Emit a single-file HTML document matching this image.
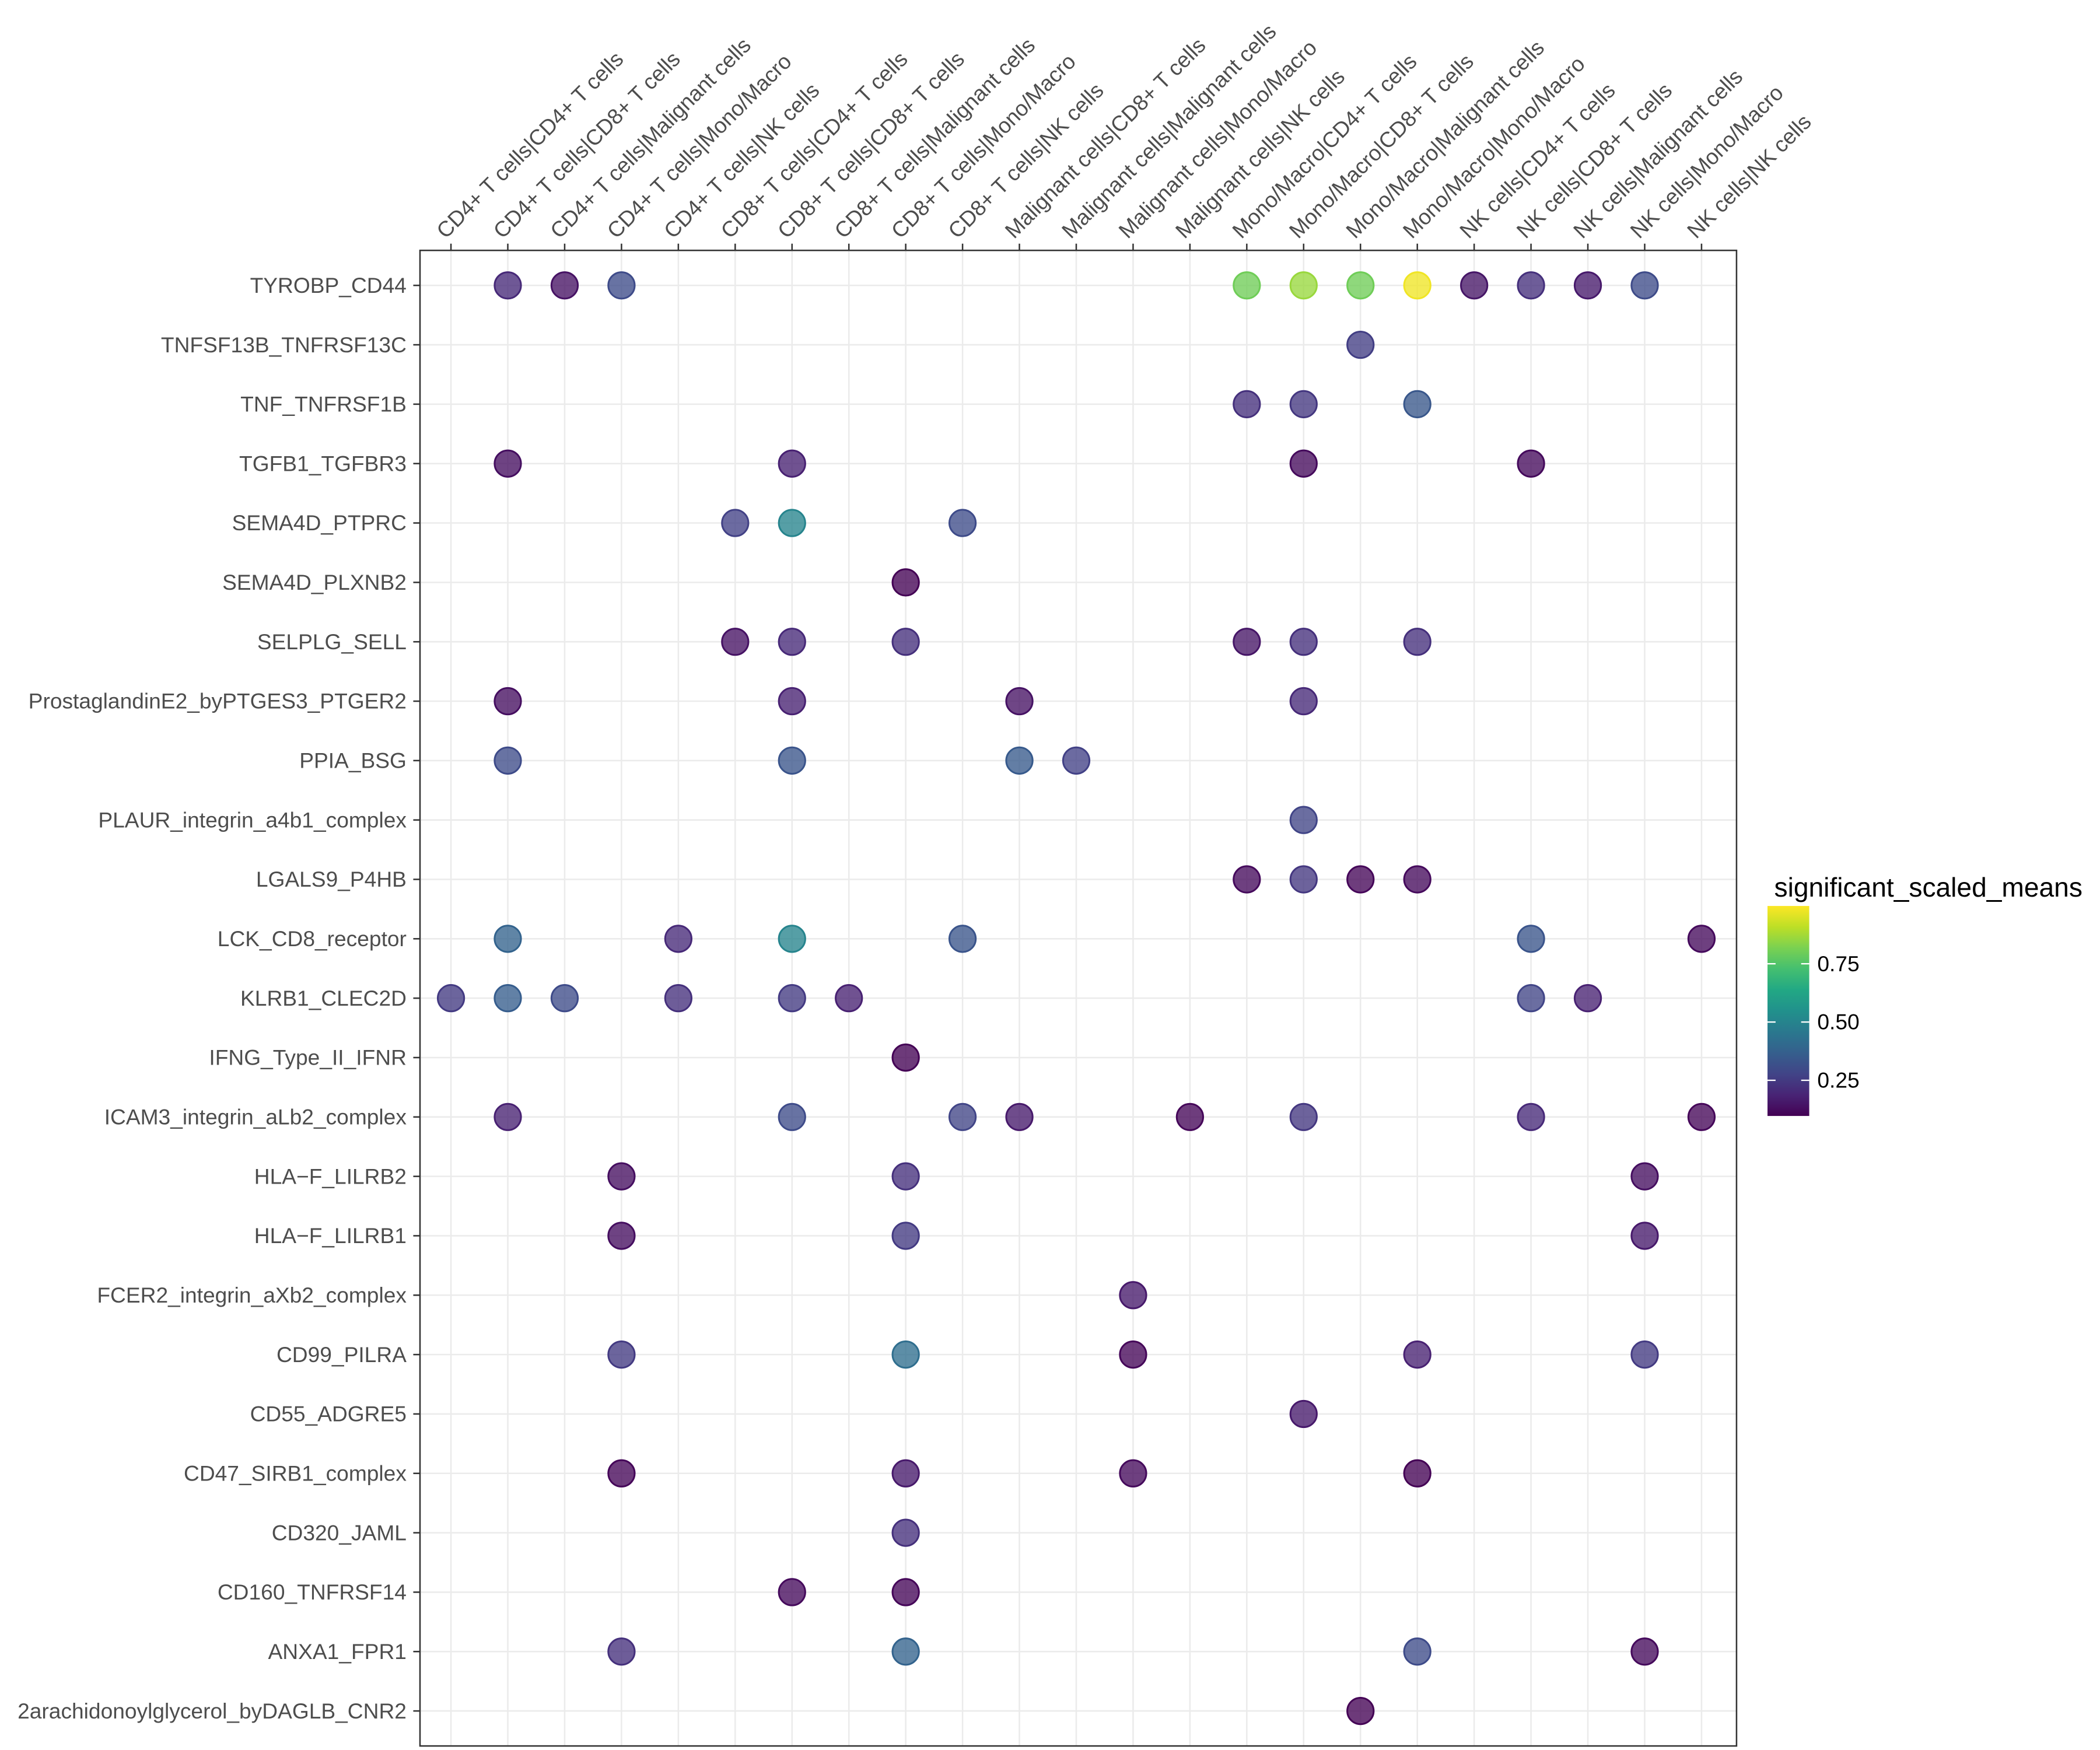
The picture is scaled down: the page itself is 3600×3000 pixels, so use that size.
<!DOCTYPE html>
<html><head><meta charset="utf-8"><style>html,body{margin:0;padding:0;background:#fff}svg{display:block}text{font-family:"Liberation Sans",sans-serif}</style></head>
<body>
<svg id="chart" width="3600" height="3000" viewBox="0 0 1560 1300" xmlns="http://www.w3.org/2000/svg">
<defs>
<linearGradient id="vir" x1="0" y1="1" x2="0" y2="0">
<stop offset="0" stop-color="#440154"/><stop offset="0.1" stop-color="#482475"/><stop offset="0.2" stop-color="#414487"/><stop offset="0.3" stop-color="#355f8d"/><stop offset="0.4" stop-color="#2a788e"/><stop offset="0.5" stop-color="#21918c"/><stop offset="0.6" stop-color="#22a884"/><stop offset="0.7" stop-color="#44bf70"/><stop offset="0.8" stop-color="#7ad151"/><stop offset="0.9" stop-color="#bddf26"/><stop offset="1" stop-color="#fde725"/>
</linearGradient>
</defs>
<g id="grid"></g>
<g id="dots"></g>
<rect x="312" y="186" width="978" height="1111" fill="none" stroke="#333" stroke-width="1.1"/>
<g id="xlabels"></g>
<g id="ylabels"></g>
<g>
<text x="1318" y="666" font-size="20" fill="#000">significant_scaled_means</text>
<rect x="1313" y="673" width="31" height="156" fill="url(#vir)"/>
<g id="cbticks"></g>
</g>
</svg>
<script>
const columns = ["CD4+ T cells|CD4+ T cells","CD4+ T cells|CD8+ T cells","CD4+ T cells|Malignant cells","CD4+ T cells|Mono/Macro","CD4+ T cells|NK cells","CD8+ T cells|CD4+ T cells","CD8+ T cells|CD8+ T cells","CD8+ T cells|Malignant cells","CD8+ T cells|Mono/Macro","CD8+ T cells|NK cells","Malignant cells|CD8+ T cells","Malignant cells|Malignant cells","Malignant cells|Mono/Macro","Malignant cells|NK cells","Mono/Macro|CD4+ T cells","Mono/Macro|CD8+ T cells","Mono/Macro|Malignant cells","Mono/Macro|Mono/Macro","NK cells|CD4+ T cells","NK cells|CD8+ T cells","NK cells|Malignant cells","NK cells|Mono/Macro","NK cells|NK cells"];
const rows = ["TYROBP_CD44","TNFSF13B_TNFRSF13C","TNF_TNFRSF1B","TGFB1_TGFBR3","SEMA4D_PTPRC","SEMA4D_PLXNB2","SELPLG_SELL","ProstaglandinE2_byPTGES3_PTGER2","PPIA_BSG","PLAUR_integrin_a4b1_complex","LGALS9_P4HB","LCK_CD8_receptor","KLRB1_CLEC2D","IFNG_Type_II_IFNR","ICAM3_integrin_aLb2_complex","HLA\u2212F_LILRB2","HLA\u2212F_LILRB1","FCER2_integrin_aXb2_complex","CD99_PILRA","CD55_ADGRE5","CD47_SIRB1_complex","CD320_JAML","CD160_TNFRSF14","ANXA1_FPR1","2arachidonoylglycerol_byDAGLB_CNR2"];
const pointRow = [0,0,0,0,0,0,0,0,0,0,0, 1, 2,2,2, 3,3,3,3, 4,4,4, 5, 6,6,6,6,6,6, 7,7,7,7, 8,8,8,8, 9, 10,10,10,10, 11,11,11,11,11,11, 12,12,12,12,12,12,12,12, 13, 14,14,14,14,14,14,14,14, 15,15,15, 16,16,16, 17, 18,18,18,18,18, 19, 20,20,20,20, 21, 22,22, 23,23,23,23, 24];
const pointCol = [1,2,3,14,15,16,17,18,19,20,21, 16, 14,15,17, 1,6,15,19, 5,6,9, 8, 5,6,8,14,15,17, 1,6,10,15, 1,6,10,11, 15, 14,15,16,17, 1,4,6,9,19,22, 0,1,2,4,6,7,19,20, 8, 1,6,9,10,13,15,19,22, 3,8,21, 3,8,21, 12, 3,8,12,17,21, 15, 3,8,12,17, 8, 6,8, 3,8,17,21, 16];
const pointVal = [0.2,0.14,0.3,0.8,0.86,0.8,0.98,0.15,0.22,0.16,0.3, 0.26, 0.22,0.24,0.34, 0.13,0.18,0.12,0.12, 0.27,0.5,0.3, 0.1, 0.14,0.2,0.22,0.15,0.22,0.22, 0.13,0.18,0.14,0.2, 0.3,0.33,0.35,0.27, 0.28, 0.12,0.24,0.11,0.12, 0.38,0.2,0.5,0.33,0.33,0.12, 0.25,0.36,0.3,0.22,0.25,0.18,0.28,0.18, 0.1, 0.18,0.3,0.28,0.16,0.11,0.24,0.2,0.11, 0.13,0.22,0.13, 0.13,0.25,0.16, 0.16, 0.25,0.42,0.11,0.18,0.25, 0.16, 0.11,0.16,0.12,0.1, 0.22, 0.12,0.11, 0.22,0.38,0.3,0.12, 0.1];
const cbTicks = [0.25,0.5,0.75];
const vmin = 0.097, vmax = 0.998;

const NS = "http://www.w3.org/2000/svg";
const xScale = i => 335 + i * (1264 - 335) / (columns.length - 1);
const yScale = j => 212 + j * (1271 - 212) / (rows.length - 1);
const cbScale = v => 829 - (v - vmin) / (vmax - vmin) * 156;
const vir = ["#440154","#482475","#414487","#355f8d","#2a788e","#21918c","#22a884","#44bf70","#7ad151","#bddf26","#fde725"];
function hex(h){return [1,3,5].map(k=>parseInt(h.substr(k,2),16));}
function color(v){let t=Math.max(0,Math.min(1,(v-vmin)/(vmax-vmin)))*10;let i=Math.min(9,Math.floor(t)),f=t-i;const a=hex(vir[i]),b=hex(vir[i+1]);return "rgb("+a.map((x,k)=>Math.round(x+(b[k]-x)*f)).join(",")+")";}
function mk(tag,attrs,parent){const e=document.createElementNS(NS,tag);for(const k in attrs)e.setAttribute(k,attrs[k]);parent.appendChild(e);return e;}

const grid=document.getElementById("grid"), dots=document.getElementById("dots"), xl=document.getElementById("xlabels"), yl=document.getElementById("ylabels"), cbt=document.getElementById("cbticks");
columns.forEach((c,i)=>{
  const x=xScale(i);
  const g=mk("line",{x1:x,x2:x,y1:186,y2:1297,stroke:"#ebebeb","stroke-width":1.1},grid);
  
  
  const t=mk("line",{x1:x,x2:x,y1:181,y2:186,stroke:"#333","stroke-width":1.1},xl);
  
  
  const tx=mk("text",{x:0,y:0,"font-size":16.1,fill:"#4d4d4d",transform:"translate("+(x-4)+",178) rotate(-45)"},xl);
  tx.textContent=c;
  
  
});
rows.forEach((r,j)=>{
  const y=yScale(j);
  const g=mk("line",{x1:312,x2:1290,y1:y,y2:y,stroke:"#ebebeb","stroke-width":1.1},grid);
  
  
  const t=mk("line",{x1:307,x2:312,y1:y,y2:y,stroke:"#333","stroke-width":1.1},yl);
  
  
  const tx=mk("text",{x:302,y:y+5.5,"font-size":16.1,fill:"#4d4d4d","text-anchor":"end"},yl);
  tx.textContent=r;
  
  
});
pointVal.forEach((v,k)=>{
  const c=color(v);
  const d=mk("circle",{cx:xScale(pointCol[k]),cy:yScale(pointRow[k]),r:9.8,fill:c,"fill-opacity":0.78,stroke:c,"stroke-width":1.3},dots);
  
  
});
cbTicks.forEach(v=>{
  const y=cbScale(v);
  const a=mk("line",{x1:1313,x2:1319,y1:y,y2:y,stroke:"#fff","stroke-width":1},cbt);
  
  
  const b=mk("line",{x1:1338,x2:1344,y1:y,y2:y,stroke:"#fff","stroke-width":1},cbt);
  
  
  const t=mk("text",{x:1350,y:y+5.5,"font-size":16.1,fill:"#000"},cbt);
  t.textContent=v.toFixed(2);
  
  
});
</script>
</body></html>
